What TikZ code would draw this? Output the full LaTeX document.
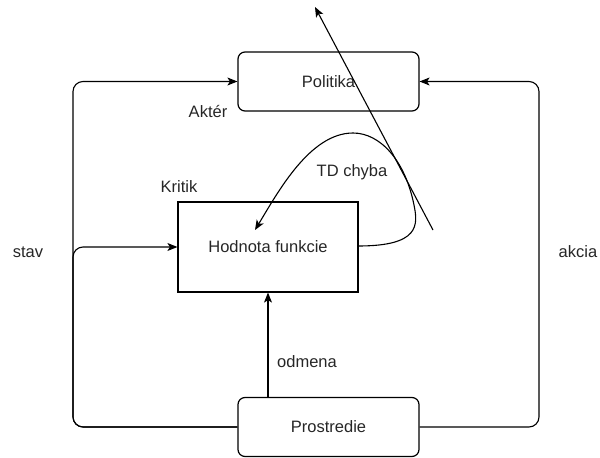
\documentclass[tikz,border=0pt]{standalone}
\usepackage{fontspec}
\setmainfont{Liberation Sans}
\usetikzlibrary{arrows.meta}
\begin{document}
\begin{tikzpicture}[x=1pt,y=-1pt,
  every node/.style={font=\fontsize{16.5}{19}\selectfont, text=black!85},
  rbox/.style={draw, line width=1.2pt, rounded corners=7pt, minimum width=181pt, minimum height=59pt, inner sep=0pt},
  sbox/.style={draw, line width=1.2pt, minimum width=180pt, minimum height=90pt, inner sep=0pt},
  arr/.style={line width=1.1pt, -{Stealth[length=10pt,width=8pt,inset=2.5pt]}},
  lbl/.style={inner sep=0pt}]
\useasboundingbox (0,0) rectangle (600,458);
\node[rbox] (pol) at (328.5,81.5) {Politika};
\node[sbox] (hod) at (268,247) {Hodnota funkcie};
\node[rbox] (pros) at (328.5,427) {Prostredie};
\coordinate (xl) at (73,0);
\coordinate (xr) at (539,0);
\node[lbl] (akter) at (208,112) {Aktér};
\node[lbl] (kritik) at (179,187) {Kritik};
\node[lbl] (td) at (352,172) {TD chyba};
\node[lbl] (odm) at (307,362) {odmena};
\node[lbl] (stav) at (28,252) {stav};
\node[lbl] (akcia) at (578,252) {akcia};
\coordinate (ls) at (433,230);
\coordinate (le) at (315,7);
% loops
\draw[arr, rounded corners=10pt] (pros.west) -- (xl |- pros.west) -- (xl |- pol.west) -- (pol.west);
\draw[arr, rounded corners=10pt] (pros.west) -- (xl |- pros.west) -- (xl |- hod.west) -- (hod.west);
\draw[arr, rounded corners=10pt] (pros.east) -- (xr |- pros.east) -- (xr |- pol.east) -- (pol.east);
\draw[arr] (hod.south |- pros.north) -- (hod.south);
% TD error curve
\coordinate (c0) at (358,246);
\coordinate (c1) at (414,205);
\coordinate (c2) at (353,133);
\coordinate (c3) at (255,230);
\draw[arr] (c0) .. controls (420,246) and (418,225) .. (c1)
  .. controls (405,160) and (380,133) .. (c2)
  .. controls (310,133) and (278,192) .. (c3);
\draw[arr] (ls) -- (le);
\end{tikzpicture}
\end{document}
